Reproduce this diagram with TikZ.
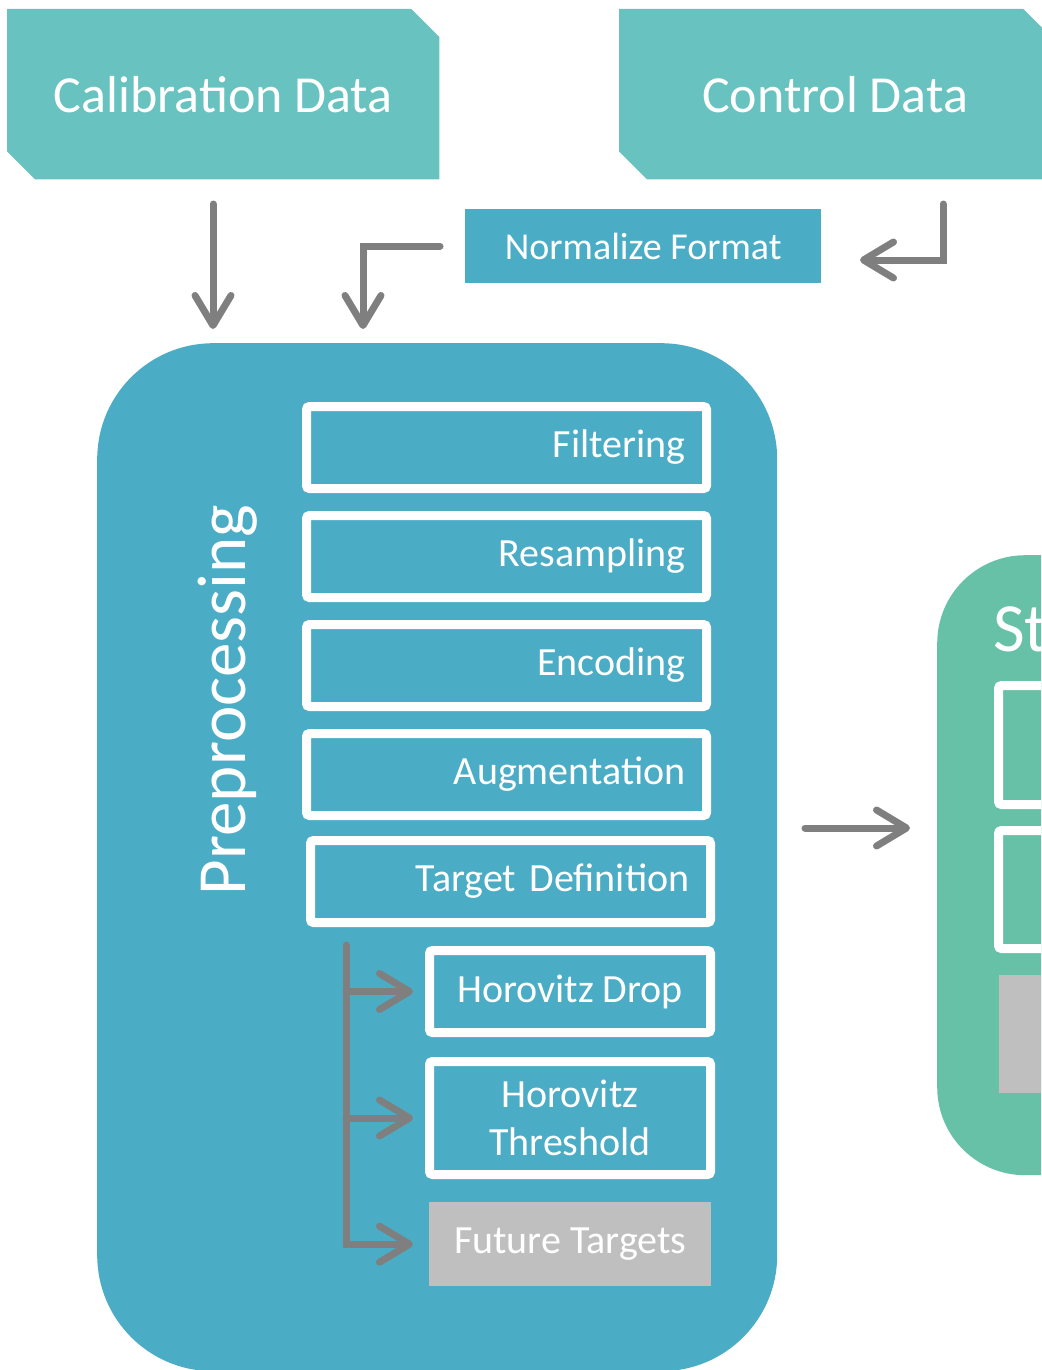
\documentclass[tikz,border=0pt]{standalone}
\usepackage{fontspec}
\setmainfont{Carlito}
\usetikzlibrary{arrows.meta,backgrounds}
\definecolor{cTeal}{HTML}{68C3C0}
\definecolor{cBlue}{HTML}{4BACC6}
\definecolor{cGreen}{HTML}{67C1A6}
\definecolor{cArrow}{HTML}{7F7F7F}
\definecolor{cLight}{HTML}{BFBFBF}
\begin{document}
\begin{tikzpicture}[x=1pt,y=-1pt,
  banner/.style={anchor=north west, minimum width=432pt, minimum height=170pt, inner sep=0pt,
    text=white, font=\fontsize{52pt}{62pt}\selectfont},
  container/.style={anchor=north west, inner sep=0pt},
  stepbox/.style={anchor=north west, draw=white, line width=9pt, rounded corners=3pt,
    minimum height=82pt, inner xsep=21pt, inner ysep=0pt, text width=358pt, align=right,
    text=white, font=\fontsize{40pt}{48pt}\selectfont},
  subbox/.style={anchor=north west, draw=white, line width=9pt, rounded corners=3pt,
    minimum width=281pt, inner sep=0pt, align=center,
    text=white, font=\fontsize{40pt}{48pt}\selectfont},
  garrow/.style={draw=cArrow, line width=7pt, line cap=round,
    -{Straight Barb[length=30pt, width=36pt, round]}},
  bigtitle/.style={text=white, font=\fontsize{69pt}{80pt}\selectfont, inner sep=0pt}
]
\useasboundingbox (0,0) rectangle (1041,1370);
\clip (0,0) rectangle (1041,1370);

% source banners
\node[banner] (cal) at (7,9) {Calibration Data};
\node[banner] (ctl) at (619,9) {Control Data};
\begin{scope}[on background layer]
\foreach \n in {cal,ctl}
  \fill[cTeal] (\n.north west) -- ([xshift=-28pt]\n.north east) -- ([yshift=-28pt]\n.north east)
    -- (\n.south east) -- ([xshift=28pt]\n.south west) -- ([yshift=28pt]\n.south west) -- cycle;
\end{scope}

% normalize format
\node[anchor=north west, fill=cBlue, minimum width=356pt, minimum height=74pt, inner sep=0pt,
  text=white, font=\fontsize{38pt}{46pt}\selectfont] (nf) at (465,209) {Normalize Format};

% preprocessing container
\node[container, fill=cBlue, rounded corners=116pt, minimum width=680pt, minimum height=1028pt] (pre) at (97,343) {};
\node[bigtitle, rotate=90, anchor=base] (pretitle) at (245,700) {Preprocessing};

\node[stepbox] (filt) at (302,402) {Filtering};
\node[stepbox] (resa) at (302,511) {Resampling};
\node[stepbox] (enco) at (302,620) {Encoding};
\node[stepbox] (augm) at (302,729) {Augmentation};
\node[stepbox] (targ) at (306,836) {Target Definition};
\node[subbox, minimum height=82pt] (hd) at (425,946) {Horovitz Drop};
\node[subbox, minimum height=113pt] (ht) at (425,1057) {Horovitz\\Threshold};
\node[anchor=north west, fill=cLight, minimum width=282pt, minimum height=84pt, inner sep=0pt,
  text=white, font=\fontsize{40pt}{48pt}\selectfont] (fut) at (429,1202) {Future Targets};

% stage container (cut by the right edge)
\node[container, fill=cGreen, rounded corners=88pt, minimum width=300pt, minimum height=620pt] (st) at (937,555) {};
\node[bigtitle, anchor=base west] (sttitle) at (993,651) {St};
\node[anchor=north west, draw=white, line width=9pt, rounded corners=3pt, minimum width=200pt, minimum height=119pt, inner sep=0pt] (sa) at (994,681) {};
\node[anchor=north west, draw=white, line width=9pt, rounded corners=3pt, minimum width=200pt, minimum height=118pt, inner sep=0pt] (sb) at (994,826) {};
\node[anchor=north west, fill=cLight, minimum width=200pt, minimum height=118pt, inner sep=0pt] (sc) at (999,975) {};

% connectors
\coordinate (a1s) at (213,204);
\coordinate (a1e) at (213,329);
\draw[garrow] (a1s) -- (a1e);
\coordinate (a2e) at (363,329);
\draw[garrow] ([xshift=-25pt]nf.west) -| (a2e);
\coordinate (a3s) at (943,204);
\coordinate (a3e) at (860,260);
\draw[garrow] (a3s) |- (a3e);
\coordinate (a4s) at (805,828);
\coordinate (a4e) at (910,828);
\draw[garrow] (a4s) -- (a4e);

\coordinate (btop) at (346,945);
\draw[garrow, line cap=round] (btop) |- ([xshift=-16pt]fut.west);
\draw[garrow] (btop |- hd.west) -- ([xshift=-12pt]hd.west);
\draw[garrow] (btop |- ht.west) -- ([xshift=-12pt]ht.west);
\end{tikzpicture}
\end{document}
